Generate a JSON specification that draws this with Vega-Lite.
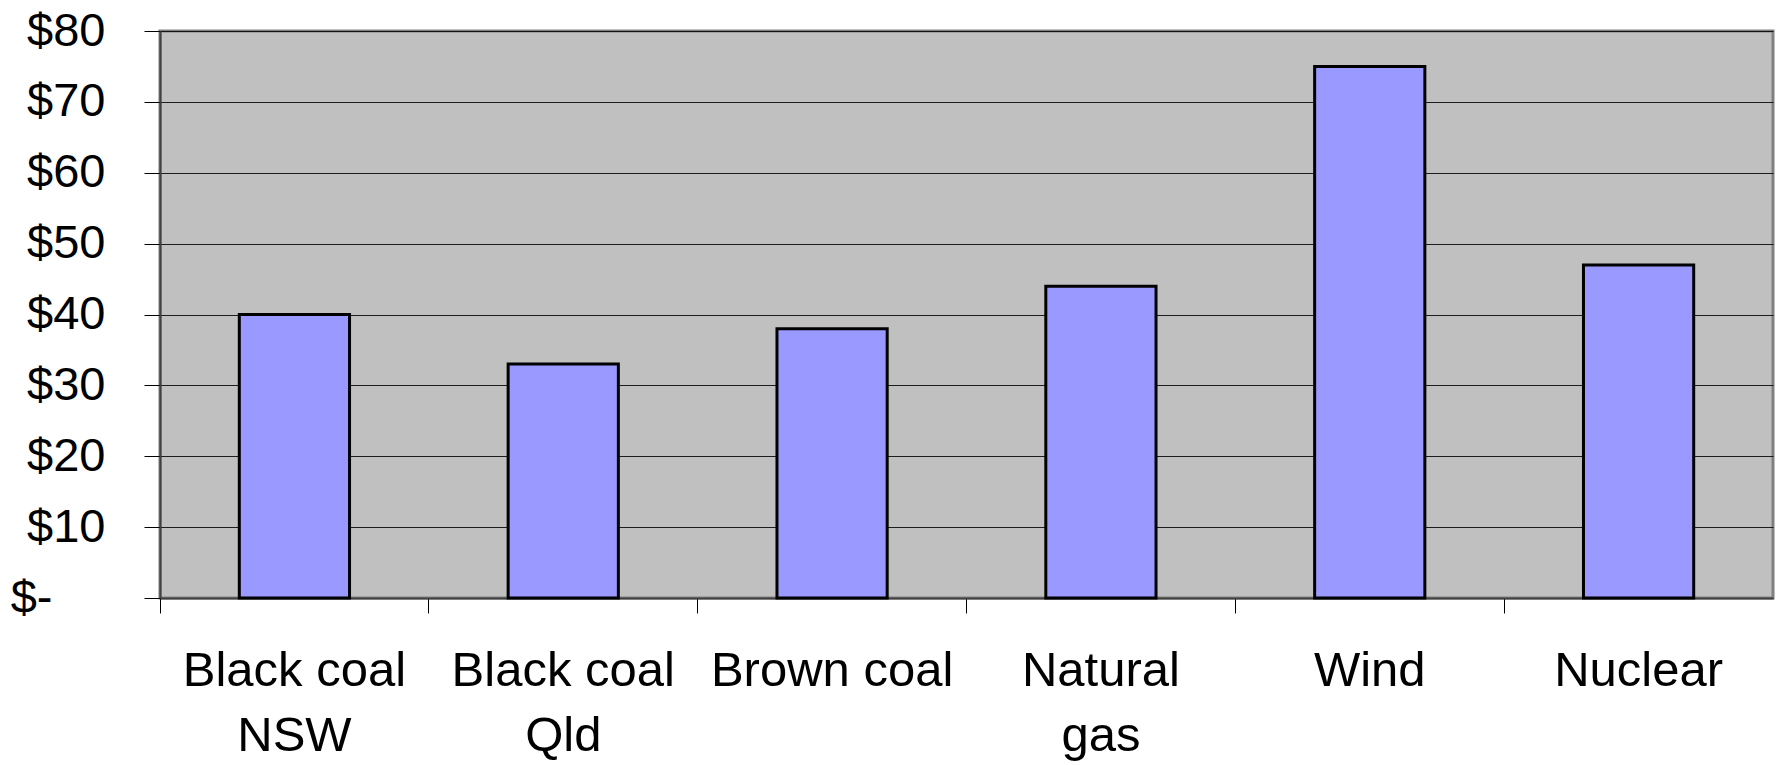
{
  "$schema": "https://vega.github.io/schema/vega-lite/v6.json",
  "width": 1613,
  "height": 567,
  "autosize": {"type": "none"},
  "padding": {"left": 160, "top": 31, "right": 15, "bottom": 167},
  "background": "white",
  "config": {
    "view": {"fill": "#C0C0C0", "stroke": "#808080", "strokeWidth": 3},
    "font": "Liberation Sans"
  },
  "data": {
    "values": [
      {"source": "Black coal|NSW", "cost": 40},
      {"source": "Black coal|Qld", "cost": 33},
      {"source": "Brown coal", "cost": 38},
      {"source": "Natural|gas", "cost": 44},
      {"source": "Wind", "cost": 75},
      {"source": "Nuclear", "cost": 47}
    ]
  },
  "mark": {"type": "bar", "fill": "#9999FF", "stroke": "black", "strokeWidth": 3},
  "encoding": {
    "x": {
      "field": "source",
      "type": "nominal",
      "sort": null,
      "scale": {"paddingInner": 0.59, "paddingOuter": 0.295},
      "axis": {
        "title": null,
        "labelAngle": 0,
        "labelExpr": "split(datum.label, '|')",
        "labelFont": "Liberation Sans",
        "labelFontSize": 49,
        "labelColor": "black",
        "labelLineHeight": 65,
        "labelPadding": 33,
        "labelBaseline": "top",
        "labelLimit": 0,
        "tickSize": 15,
        "tickColor": "black",
        "tickWidth": 1,
        "bandPosition": -0.7195,
        "domainColor": "#404040",
        "domainWidth": 2,
        "grid": false
      }
    },
    "y": {
      "field": "cost",
      "type": "quantitative",
      "scale": {"domain": [0, 80], "nice": false},
      "axis": {
        "title": null,
        "values": [0, 10, 20, 30, 40, 50, 60, 70, 80],
        "labelExpr": "datum.value == 0 ? '$-' : '$' + datum.value",
        "labelFont": "Liberation Sans",
        "labelFontSize": 47,
        "labelColor": "black",
        "labelPadding": {"condition": {"test": "datum.value == 0", "value": 92}, "value": 39},
        "labelBaseline": "middle",
        "tickSize": 16,
        "tickColor": "black",
        "tickWidth": 1,
        "grid": true,
        "gridColor": "black",
        "gridWidth": 1,
        "gridOpacity": 0.85,
        "domainColor": "#404040",
        "domainWidth": 2
      }
    }
  }
}
